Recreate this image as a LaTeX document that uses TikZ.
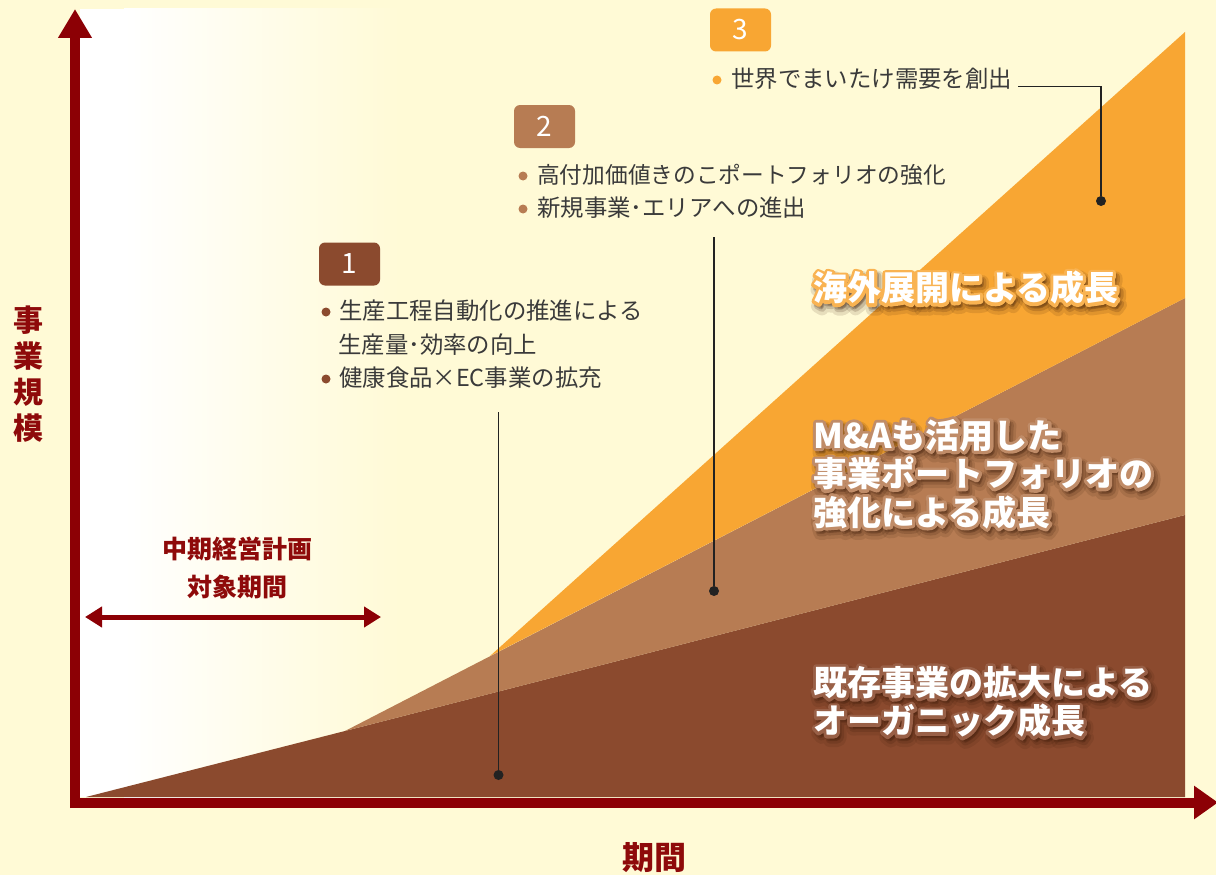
\documentclass[tikz,border=0pt]{standalone}
\usepackage{fontspec}
\usetikzlibrary{arrows.meta}
\newfontfamily\jp{Noto Sans CJK JP}
\definecolor{bgc}{HTML}{FFFAD6}
\definecolor{axisred}{HTML}{8C0005}
\definecolor{dbrown}{HTML}{8B4A2E}
\definecolor{mbrown}{HTML}{B77C53}
\definecolor{orng}{HTML}{F8A633}
\definecolor{txtgray}{HTML}{3A3A3A}
\definecolor{lblred}{HTML}{8E0A0A}
\definecolor{dotc}{HTML}{222222}
\definecolor{shad}{HTML}{3A1A08}
\tikzset{
  axis/.style={draw=axisred, line width=10pt},
  bigtxt/.style={font=\jp\bfseries\fontsize{34}{38.5}\selectfont, align=left, anchor=west, inner sep=0pt, text=white},
  smalltxt/.style={font=\jp\fontsize{23.4}{33}\selectfont, anchor=west, inner sep=0pt, text=txtgray},
  badge/.style={rounded corners=6pt, minimum width=61pt, minimum height=43pt, inner sep=0pt, text=white, font=\jp\fontsize{28}{30}\selectfont},
  bul/.style={circle, inner sep=0pt, minimum size=9pt},
  leader/.style={draw=dotc, line width=1.3pt},
  dotn/.style={circle, fill=dotc, inner sep=0pt, minimum size=10pt},
  redlbl/.style={font=\jp\bfseries, text=lblred, inner sep=0pt, align=center},
}
% stroked text (text render mode 2 = fill+stroke) with a given line width
\newcommand\stk[1]{\special{pdf:literal direct 2 Tr #1 w 1 j 1 J}}
\newcommand\glowlabel[5]{%
  \node[bigtxt,text=shad,opacity=0.12] (#1s1) at (#2+3,#3+5) {\stk{13}#5};
  \node[bigtxt,text=shad,opacity=0.18] (#1s2) at (#2+3,#3+4) {\stk{8}#5};
  \node[bigtxt,text=shad,opacity=0.22] (#1s3) at (#2+2,#3+3) {\stk{5}#5};
  \node[bigtxt,text=#4] (#1h) at (#2,#3) {\stk{6}#5};
  \node[bigtxt] (#1) at (#2,#3) {#5};
}
\begin{document}
\begin{tikzpicture}[x=1pt,y=-1pt]
\useasboundingbox (0,0) rectangle (1216,875);
\fill[bgc] (0,0) rectangle (1216,875);
% plot area gradient
\fill[white] (80,9) rectangle (125,797);
\shade[left color=white, right color=bgc] (124,9) rectangle (400,797);
% layers
\fill[dbrown] (86,797) -- (345,731) -- (1185,515) -- (1185,797) -- cycle;
\fill[mbrown] (345,731) -- (1185,298) -- (1185,515) -- cycle;
\fill[orng] (490,656) -- (1185,32) -- (1185,298) -- cycle;
% axes
\coordinate (O) at (75,808);
\coordinate (ytop) at (75,9);
\coordinate (xl) at (70,802.5);
\coordinate (xr) at (1218,802.5);
\draw[axis, -{Triangle[width=32pt,length=29pt]}] (O) -- (ytop);
\draw[axis, -{Triangle[width=32pt,length=24pt]}] (xl) -- (xr);
% axis labels
\node[redlbl, font=\jp\bfseries\fontsize{30}{36}\selectfont] (ylab) at (28,374) {事\\業\\規\\模};
\node[redlbl, font=\jp\bfseries\fontsize{32}{36}\selectfont] (xlab) at (654,858) {期間};
% mid-term plan
\node[redlbl, font=\jp\bfseries\fontsize{25}{38}\selectfont] (plan) at (237,568) {中期経営計画\\対象期間};
\coordinate (pl) at (85,617);
\coordinate (pr) at (381,617);
\draw[draw=axisred, line width=5pt, {Triangle[width=20pt,length=17pt]}-{Triangle[width=20pt,length=17pt]}] (pl) -- (pr);
% badges
\node[badge, fill=dbrown] (b1) at (349.5,264) {1};
\node[badge, fill=mbrown] (b2) at (544.5,126.5) {2};
\node[badge, fill=orng] (b3) at (740.5,30) {3};
% block 1
\node[bul, fill=dbrown] (u11) at (326,312) {};
\node[smalltxt] (t11) at (339,311) {生産工程自動化の推進による};
\node[smalltxt] (t12) at (338,345) {生産量･効率の向上};
\node[bul, fill=dbrown] (u13) at (326,379) {};
\node[smalltxt] (t13) at (339,378) {健康食品×EC事業の拡充};
% block 2
\node[bul, fill=mbrown] (u21) at (523,176) {};
\node[smalltxt, font=\jp\fontsize{22.7}{33}\selectfont] (t21) at (537,175) {高付加価値きのこポートフォリオの強化};
\node[bul, fill=mbrown] (u22) at (523,209) {};
\node[smalltxt] (t22) at (537,208) {新規事業･エリアへの進出};
% block 3
\node[bul, fill=orng] (u31) at (717,80) {};
\node[smalltxt] (t31) at (731,79) {世界でまいたけ需要を創出};
% leaders
\node[dotn] (d1) at (498.5,775) {};
\node[dotn] (d2) at (714,591) {};
\node[dotn] (d3) at (1101,201) {};
\coordinate (e1) at (498.5,412);
\coordinate (e2) at (714,237);
\coordinate (e3) at (1101,86.5);
\coordinate (e3b) at (1018,86.5);
\draw[leader] (d1) -- (e1);
\draw[leader] (d2) -- (e2);
\draw[leader] (d3) -- (e3) -- (e3b);
% big labels
\glowlabel{g1}{813}{288}{orng!85!white}{海外展開による成長}
\glowlabel{g2}{813}{474}{mbrown!88!white}{M\&Aも活用した\\事業ポートフォリオの\\強化による成長}
\glowlabel{g3}{813}{702}{dbrown!88!white}{既存事業の拡大による\\オーガニック成長}
\end{tikzpicture}
\end{document}
